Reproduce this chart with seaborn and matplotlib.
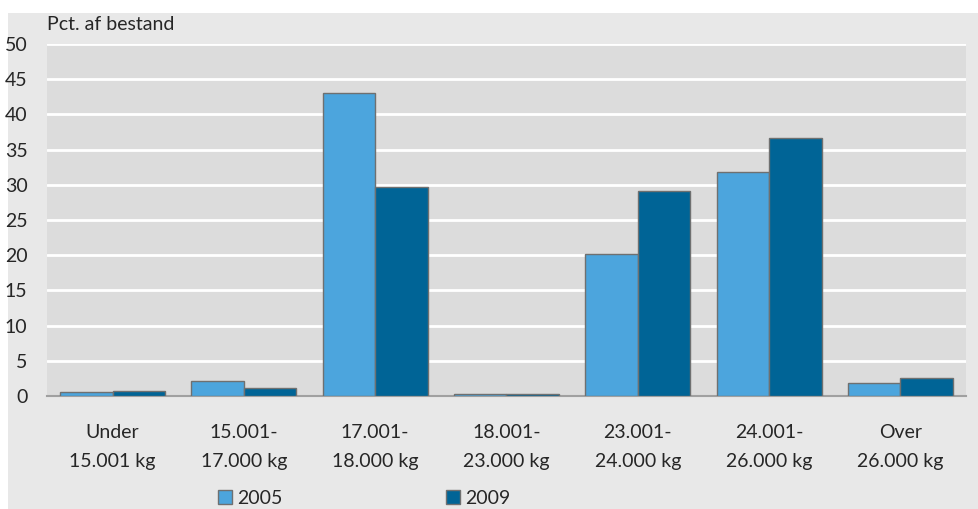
import numpy as np
import pandas as pd
import matplotlib
matplotlib.use("Agg")
import matplotlib.pyplot as plt
from matplotlib.patches import Rectangle
import seaborn as sns

categories = ["Under\n15.001 kg", "15.001-\n17.000 kg", "17.001-\n18.000 kg", "18.001-\n23.000 kg",
              "23.001-\n24.000 kg", "24.001-\n26.000 kg", "Over\n26.000 kg"]
years = ["2005", "2009"]
values_2005 = [0.5, 2.1, 43.0, 0.3, 20.1, 31.8, 1.9]
values_2009 = [0.7, 1.1, 29.7, 0.3, 29.1, 36.6, 2.5]
yticks = list(range(0, 55, 5))

df = pd.DataFrame({
    "Vægtklasse": categories * 2,
    "År": [years[0]] * len(categories) + [years[1]] * len(categories),
    "Pct": values_2005 + values_2009,
})

sns.set_style("white")
plt.rcParams["font.family"] = ["Lato", "DejaVu Sans"]

fig = plt.figure(figsize=(9.79, 5.09), dpi=100, facecolor="white")
# grey panel behind the chart
fig.add_artist(Rectangle((8 / 979, 0), 1, 1 - 13 / 509, transform=fig.transFigure,
                         facecolor="#e8e8e8", edgecolor="none", zorder=-5))
ax = fig.add_axes([47 / 979, 1 - 396 / 509, (966 - 47) / 979, (396 - 44) / 509])
ax.set_zorder(1)
ax.set_facecolor("#dcdcdc")

sns.barplot(data=df, x="Vægtklasse", y="Pct", hue="År", ax=ax,
            palette=["#4ca5dd", "#006496"], width=0.8, saturation=1,
            edgecolor="#6f7070", linewidth=1, zorder=3, legend=True)

ax.set_ylim(0, 50)
ax.set_yticks(yticks)
ax.set_yticklabels([str(t) for t in yticks], fontsize=14)
ax.yaxis.grid(True, color="white", linewidth=2, zorder=0)
ax.set_axisbelow(True)
ax.tick_params(axis="y", length=0, pad=14)
ax.tick_params(axis="x", length=0, pad=20, labelsize=14)
for lbl in ax.get_xticklabels():
    lbl.set_linespacing(1.85)
ax.set_xlabel("")
ax.set_ylabel("")
for s in ["top", "right", "left"]:
    ax.spines[s].set_visible(False)
ax.spines["bottom"].set_color("#a0a0a0")
ax.spines["bottom"].set_linewidth(1.5)

ax.text(0, 1.03, "Pct. af bestand", transform=ax.transAxes, fontsize=14,
        ha="left", va="bottom")

handles, labels = ax.get_legend_handles_labels()
ax.get_legend().remove()
fig.legend(handles, labels, loc="center left", bbox_to_anchor=(218 / 979, 11 / 509),
           ncol=2, frameon=False, fontsize=14, handlelength=0.7, handleheight=0.7,
           handletextpad=0.3, columnspacing=8.4, borderaxespad=0, borderpad=0)

fig.savefig("out.png", dpi=100, facecolor=fig.get_facecolor())
